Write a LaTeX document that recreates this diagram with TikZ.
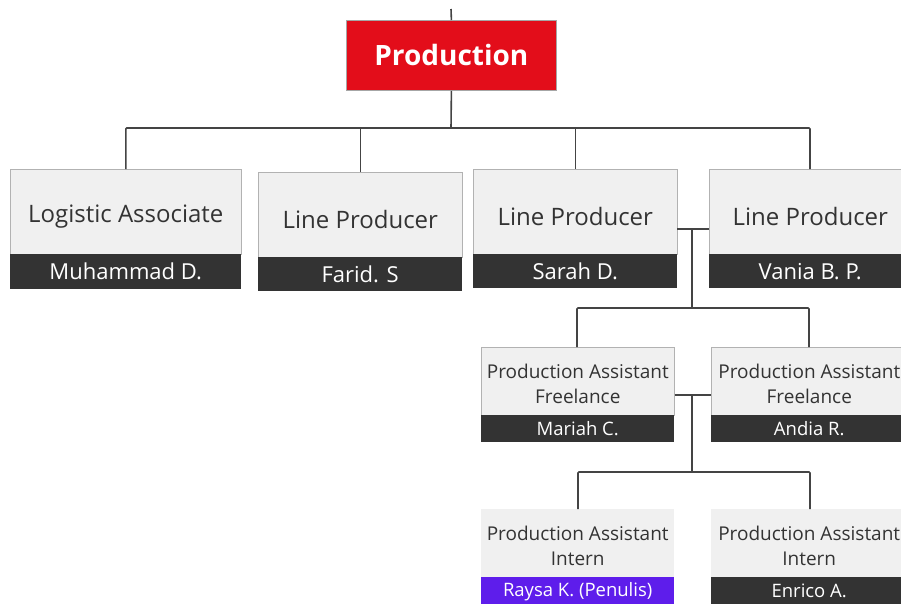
\documentclass[tikz,border=0pt]{standalone}
\usepackage{fontspec}
\setmainfont{Open Sans}
\definecolor{prodred}{HTML}{E30D1A}
\definecolor{boxgray}{HTML}{F0F0F0}
\definecolor{darkbar}{HTML}{333333}
\definecolor{purplebar}{HTML}{5E1DEB}
\definecolor{linecol}{HTML}{444444}
\definecolor{txtcol}{HTML}{333333}
\newcommand{\lowA}[1]{\raisebox{-5pt}[\height][\depth]{#1}}
\newcommand{\lowB}[2]{\raisebox{-2.5pt}[\height][\depth]{\parbox{190pt}{\centering #1\\#2}}}
\tikzset{
  conn/.style={draw=linecol, line width=1.6pt, rounded corners=1pt},
  titleA/.style={fill=boxgray, draw=gray!60, line width=0.6pt, inner sep=0pt, text=txtcol,
    font=\fontsize{24}{27}\selectfont, anchor=north west},
  nameA/.style={fill=darkbar, inner sep=0pt, text=white,
    font=\fontsize{22}{24}\selectfont, anchor=north west},
  titleB/.style={fill=boxgray, draw=gray!60, line width=0.6pt, inner sep=0pt, text=txtcol,
    font=\fontsize{19}{25.5}\selectfont, anchor=north west},
  titleC/.style={fill=boxgray, inner sep=0pt, text=txtcol,
    font=\fontsize{19}{25.5}\selectfont, anchor=north west},
  nameB/.style={fill=darkbar, inner sep=0pt, text=white,
    font=\fontsize{18.5}{20}\selectfont, anchor=north west},
}
\begin{document}
\begin{tikzpicture}[x=1pt,y=-1pt]
\clip (0,0) rectangle (901,603);
\fill[white] (0,0) rectangle (901,603);
% Top
\node[fill=prodred, draw=gray!70, line width=0.8pt, text=white, inner sep=0pt,
  minimum width=210pt, minimum height=70pt, anchor=north west,
  font=\fontsize{28}{30}\selectfont\bfseries] (prod) at (346,20) {Production};
\coordinate (topend) at (451,9);
\coordinate (bus) at (451,128);
% Level 1
\node[titleA, minimum width=231pt, minimum height=85pt] (la) at (10,169) {\lowA{Logistic Associate}};
\node[nameA, minimum width=231pt, minimum height=35pt] (lan) at (10,254) {Muhammad D.};
\node[titleA, minimum width=204pt, minimum height=85pt] (fa) at (258,172) {\lowA{Line Producer}};
\node[nameA, minimum width=204pt, minimum height=34pt] (fan) at (258,257) {Farid. S};
\node[titleA, minimum width=204pt, minimum height=85pt] (sa) at (473,169) {\lowA{Line Producer}};
\node[nameA, minimum width=204pt, minimum height=34pt] (san) at (473,254) {Sarah D.};
\node[titleA, minimum width=202pt, minimum height=85pt] (va) at (709,169) {\lowA{Line Producer}};
\node[nameA, minimum width=202pt, minimum height=34pt] (van) at (709,254) {Vania B. P.};
% Level 2
\node[titleB, minimum width=193pt, minimum height=68pt] (ma) at (481,347) {\lowB{Production Assistant}{Freelance}};
\node[nameB, minimum width=193pt, minimum height=27pt] (man) at (481,415) {Mariah C.};
\node[titleB, minimum width=196pt, minimum height=68pt] (an) at (711,347) {\lowB{Production Assistant}{Freelance}};
\node[nameB, minimum width=196pt, minimum height=27pt] (ann) at (711,415) {Andia R.};
% Level 3
\node[titleC, minimum width=193pt, minimum height=68pt] (ra) at (481,509) {\lowB{Production Assistant}{Intern}};
\node[nameB, fill=purplebar, minimum width=193pt, minimum height=28pt] (ran) at (481,577) {Raysa K. (Penulis)};
\node[titleC, minimum width=196pt, minimum height=68pt] (en) at (711,509) {\lowB{Production Assistant}{Intern}};
\node[nameB, minimum width=196pt, minimum height=28pt] (enn) at (711,577) {Enrico A.};
% Connectors
\draw[conn] (topend) -- (prod.north);
\draw[conn] (prod.south) -- (bus);
\draw[conn] (la.north) -- (la.north |- bus) -- (810,128) -- (810,169);
\draw[conn] (fa.north) -- (fa.north |- bus);
\draw[conn] (sa.north) -- (sa.north |- bus);
\coordinate (j1) at (692,229);
\coordinate (bus2) at (692,308);
\draw[conn] (677,229) -- (709,229);
\draw[conn] (j1) -- (bus2);
\draw[conn] (577,347) -- (577,308) -- (809,308) -- (809,347);
\coordinate (j2) at (692,395);
\coordinate (bus3) at (692,472);
\draw[conn] (ma.east |- j2) -- (an.west |- j2);
\draw[conn] (j2) -- (bus3);
\draw[conn] (578,509) -- (578,472) -- (810,472) -- (810,509);
\end{tikzpicture}
\end{document}
